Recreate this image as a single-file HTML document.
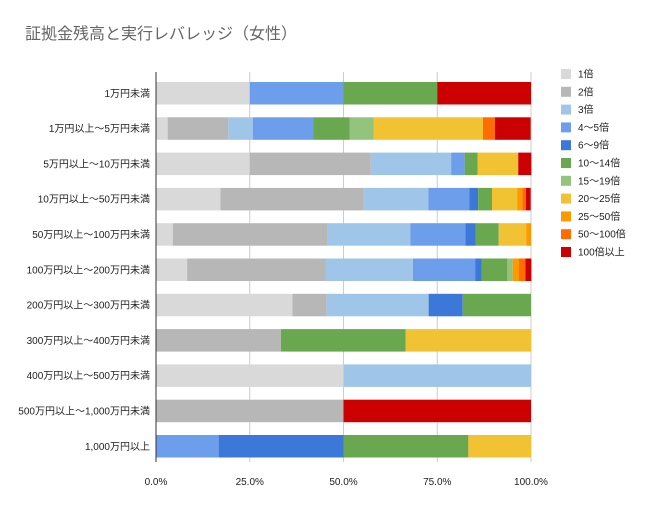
<!DOCTYPE html>
<html><head><meta charset="utf-8"><style>
body{margin:0;background:#fff;width:650px;height:507px;overflow:hidden;font-family:"Liberation Sans","Noto Sans CJK JP",sans-serif}
</style></head><body>
<svg id="c" width="650" height="507" xmlns="http://www.w3.org/2000/svg">
<text x="25" y="39" font-size="16" fill="#666" font-family="Liberation Sans, Noto Sans CJK JP, sans-serif">証拠金残高と実行レバレッジ（女性）</text>
</svg>
<script>
const categories=["1万円未満","1万円以上～5万円未満","5万円以上～10万円未満","10万円以上～50万円未満","50万円以上～100万円未満","100万円以上～200万円未満","200万円以上～300万円未満","300万円以上～400万円未満","400万円以上～500万円未満","500万円以上～1,000万円未満","1,000万円以上"];
const seriesNames=["1倍","2倍","3倍","4～5倍","6～9倍","10～14倍","15～19倍","20～25倍","25～50倍","50～100倍","100倍以上"];
const colors=["#d9d9d9","#b7b7b7","#9fc5e8","#6d9eeb","#3c78d8","#6aa84f","#93c47d","#f1c232","#ff9900","#ff6d01","#cc0000"];
const s1=[25,3.1,25,17.2,4.5,8.3,36.4,0,50,0,0];
const s2=[0,16.2,32.3,38,41.2,36.9,9.1,33.3,0,50,0];
const s3=[0,6.5,21.4,17.4,22.1,23.3,27.2,0,50,0,0];
const s4=[25,16.2,3.6,11,14.7,16.6,0,0,0,0,16.7];
const s5=[0,0,0,2.3,2.8,1.8,9.1,0,0,0,33.3];
const s6=[25,9.6,3.5,3.7,6.1,6.8,18.2,33.3,0,0,33.3];
const s7=[0,6.4,0,0,0,1.4,0,0,0,0,0];
const s8=[0,29.2,10.8,6.7,7.3,0,0,33.4,0,0,16.7];
const s9=[0,0,0,1.4,1.3,1.7,0,0,0,0,0];
const s10=[0,3.2,0,0.9,0,1.7,0,0,0,0,0];
const s11=[25,9.5,3.5,1.3,0,1.6,0,0,0,50,0];
const series=[s1,s2,s3,s4,s5,s6,s7,s8,s9,s10,s11];
const ticks=[0,25,50,75,100];
const tickLabels=["0.0%","25.0%","50.0%","75.0%","100.0%"];
const NS="http://www.w3.org/2000/svg",svg=document.getElementById("c");
const x0=156,x1=531,top0=82,step=35.3,bh=22.5,bottom=462;
const xs=v=>x0+(x1-x0)*v/100, ys=i=>top0+i*step;
function mk(t,a){const e=document.createElementNS(NS,t);for(const k in a)e.setAttribute(k,a[k]);svg.appendChild(e);return e;}
ticks.forEach((t,i)=>{
 const g=mk("line",{x1:xs(t),x2:xs(t),y1:72,y2:bottom,stroke:"#ccc","stroke-width":1});
 
 
 const l=mk("text",{x:xs(t),y:485,"font-size":10,"text-anchor":"middle",fill:"#222"});
 l.textContent=tickLabels[i];
 
 
});
categories.forEach((c,i)=>{
 let acc=0;
 series.forEach((s,j)=>{
  const v=s[i];if(v<=0)return;
  const r=mk("rect",{x:xs(acc),y:ys(i),width:xs(acc+v)-xs(acc),height:bh,fill:colors[j]});
  
  
  acc+=v;
 });
 const l=mk("text",{x:150,y:ys(i)+bh/2+3.5,"font-size":10,"text-anchor":"end",fill:"#222"});
 l.textContent=c;
 
 
});
const ax=mk("line",{x1:x0,x2:x0,y1:72,y2:bottom,stroke:"#333","stroke-width":1});


seriesNames.forEach((n,j)=>{
 const y=74+j*17.8;
 const r=mk("rect",{x:561,y:y-5,width:10,height:10,fill:colors[j]});
 
 
 const t=mk("text",{x:578,y:y+3.5,"font-size":10,fill:"#222"});
 t.textContent=n;
 
 
});
</script>
</body></html>
